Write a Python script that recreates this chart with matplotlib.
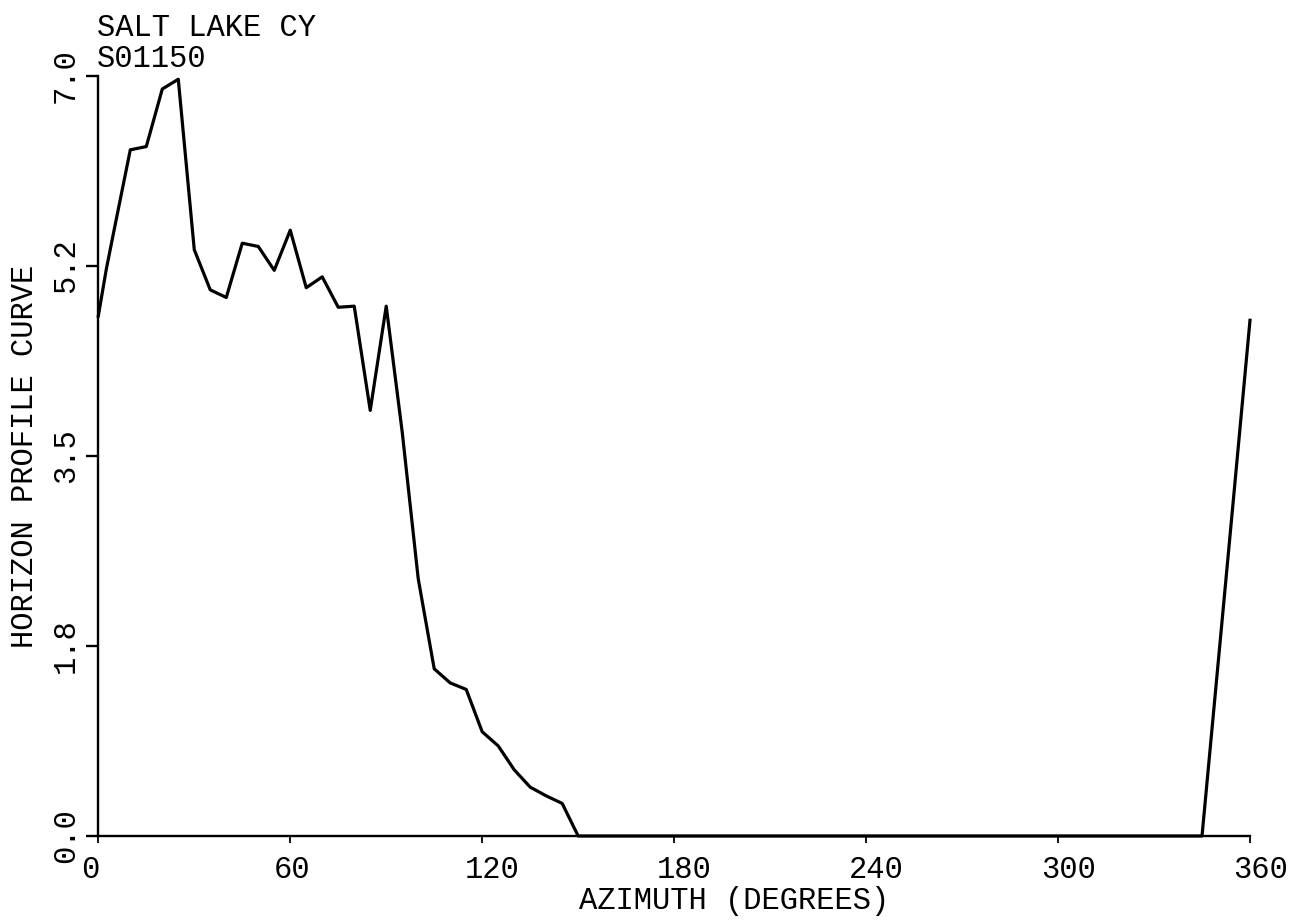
import matplotlib
matplotlib.use("Agg")
import matplotlib.pyplot as plt
from matplotlib.transforms import ScaledTranslation

plt.rcParams['font.family'] = ['Liberation Mono', 'DejaVu Sans']

# horizon profile (azimuth in degrees, profile value)
azimuth = [0, 2.5, 5, 10, 15, 20, 25, 30, 35, 40, 45, 50, 55, 60, 65, 70, 75,
           80, 85, 90, 95, 100, 105, 110, 115, 120, 125, 130, 135, 140, 145,
           150, 345, 350, 355, 360]
profile = [4.79, 5.22, 5.59, 6.32, 6.35, 6.88, 6.97, 5.40, 5.03, 4.96, 5.46,
           5.43, 5.21, 5.58, 5.05, 5.15, 4.87, 4.88, 3.92, 4.88, 3.72, 2.37,
           1.54, 1.41, 1.35, 0.96, 0.83, 0.61, 0.45, 0.37, 0.30,
           0.0, 0.0, 1.58, 3.16, 4.75]

xticks = [0, 60, 120, 180, 240, 300, 360]
xtick_labels = ['0', '60', '120', '180', '240', '300', '360']
yticks = [0.0, 1.75, 3.5, 5.25, 7.0]
ytick_labels = ['0.0', '1.8', '3.5', '5.2', '7.0']

W, H = 1300, 921
fig = plt.figure(figsize=(W / 100, H / 100), dpi=100)
ax = fig.add_axes([98.3 / W, 1 - 836 / H, 1151.7 / W, 760 / H])

ax.plot(azimuth, profile, color='black', lw=2.3, clip_on=False)

ax.set_xlim(0, 360)
ax.set_ylim(0, 7)
for side in ['top', 'right']:
    ax.spines[side].set_visible(False)
for side in ['left', 'bottom']:
    ax.spines[side].set_linewidth(1.7)

# y ticks: rotated labels, outward ticks
ax.set_yticks(yticks, ytick_labels)
ax.tick_params(axis='y', direction='out', length=8.6, width=1.7, pad=4,
               labelsize=22, labelrotation=90)
for lbl in ax.get_yticklabels():
    lbl.set_va('center')

# x ticks: labels start a bit left of each tick, like the plotter output
ax.set_xticks(xticks)
ax.tick_params(axis='x', direction='out', length=5, width=1.3,
               labelbottom=False)
off = ScaledTranslation(-0.17, -0.42, fig.dpi_scale_trans)
for t, lab in zip(xticks, xtick_labels):
    ax.text(t, 0, lab, transform=ax.get_xaxis_transform() + off,
            ha='left', va='baseline', fontsize=22)

ax.set_xlabel('AZIMUTH (DEGREES)', fontsize=22)
ax.xaxis.label.set_va('baseline')
ax.xaxis.set_label_coords(0.552, -0.096)

ax.set_ylabel('HORIZON PROFILE CURVE', fontsize=22)
ax.yaxis.label.set_va('baseline')
ax.yaxis.set_label_coords(-0.0567, 0.5)

fig.text(97 / W, 1 - 36 / H, 'SALT LAKE CY', fontsize=22, va='baseline')
fig.text(97 / W, 1 - 67 / H, 'S01150', fontsize=22, va='baseline')

fig.savefig('out.png', dpi=100, facecolor='white')
